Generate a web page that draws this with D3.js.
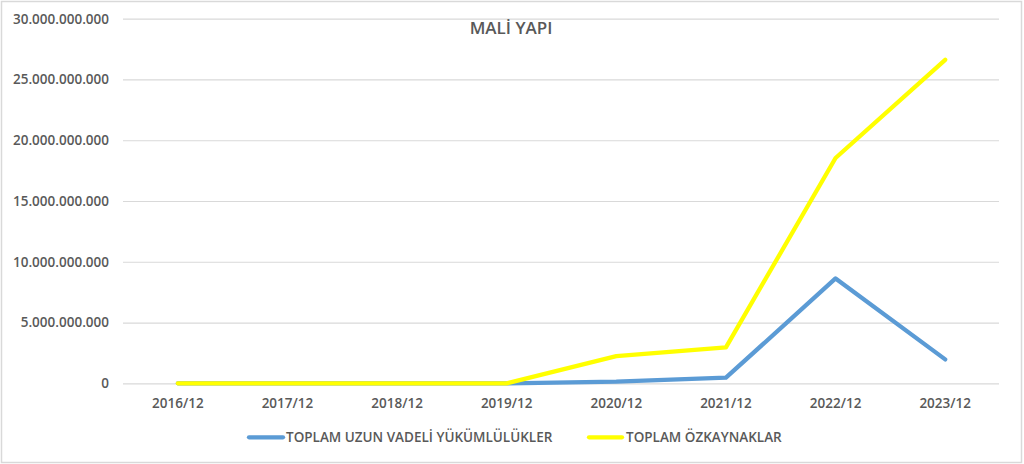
<!DOCTYPE html>
<html>
<head>
<meta charset="utf-8">
<script src="https://cdn.jsdelivr.net/npm/d3@7"></script>
<style>
  html, body { margin: 0; padding: 0; background: #fff; }
  svg { display: block; }
  text { font-family: "Open Sans", "Liberation Sans", sans-serif; fill: #595959; }
</style>
</head>
<body>
<svg id="chart" width="1024" height="464"></svg>
<script>
const title = "MALİ YAPI";
const categories = ["2016/12", "2017/12", "2018/12", "2019/12", "2020/12", "2021/12", "2022/12", "2023/12"];
const seriesNames = ["TOPLAM UZUN VADELİ YÜKÜMLÜLÜKLER", "TOPLAM ÖZKAYNAKLAR"];
const uzunVadeli = [0, 0, 0, 0, 130000000, 460000000, 8630000000, 1970000000];
const ozkaynaklar = [0, 0, 0, 0, 2240000000, 2960000000, 18540000000, 26620000000];
const yTicks = [0, 5000000000, 10000000000, 15000000000, 20000000000, 25000000000, 30000000000];
const colors = ["#5B9BD5", "#FFFF00"];

const svg = d3.select("#chart");
const W = 1024, H = 464;
const plot = { left: 123, right: 1000, top: 18.7, bottom: 383.3 };

// chart border
svg.append("rect")
  .attr("x", 1.5).attr("y", 1.5)
  .attr("width", W - 4).attr("height", H - 3)
  .attr("fill", "#fff").attr("stroke", "#d9d9d9").attr("stroke-width", 1.5);

const x = d3.scaleBand().domain(categories).range([plot.left, plot.right]);
const y = d3.scaleLinear().domain([0, 30000000000]).range([plot.bottom, plot.top]);

const loc = d3.formatLocale({ decimal: ",", thousands: ".", grouping: [3], currency: ["", ""] });
const fmt = loc.format(",");

// gridlines
const yAxis = d3.axisLeft(y).tickValues(yTicks).tickFormat(fmt)
  .tickSize(-(plot.right - plot.left - 1)).tickPadding(14);
const gy = svg.append("g").attr("transform", `translate(${plot.left},0)`).call(yAxis);
gy.select(".domain").remove();
gy.selectAll(".tick line").attr("stroke", "#d9d9d9").attr("stroke-width", 1.2);
gy.selectAll(".tick text")
  .attr("font-family", "'Open Sans', sans-serif")
  .attr("font-size", 13.5).attr("font-weight", 600).attr("fill", "#595959");

// x axis labels
const xAxis = d3.axisBottom(x).tickSize(0).tickPadding(15);
const gx = svg.append("g").attr("transform", `translate(0,${plot.bottom})`).call(xAxis);
gx.select(".domain").remove();
gx.selectAll(".tick text")
  .attr("font-family", "'Open Sans', sans-serif")
  .attr("font-size", 13.5).attr("font-weight", 600).attr("fill", "#595959");

// lines
const line = d3.line()
  .x((d, i) => x(categories[i]) + x.bandwidth() / 2)
  .y(d => y(d));

[uzunVadeli, ozkaynaklar].forEach((s, k) => {
  svg.append("path")
    .datum(s)
    .attr("d", line)
    .attr("fill", "none")
    .attr("stroke", colors[k])
    .attr("stroke-width", 4.3)
    .attr("stroke-linejoin", "round")
    .attr("stroke-linecap", "round");
});

// title
svg.append("text")
  .attr("x", 511).attr("y", 34)
  .attr("text-anchor", "middle")
  .attr("font-size", 17).attr("font-weight", 600)
  .attr("fill", "#595959")
  .text(title);

// legend
const legendItems = [
  { name: seriesNames[0], color: colors[0], x1: 249, x2: 283, tx: 286 },
  { name: seriesNames[1], color: colors[1], x1: 589, x2: 622, tx: 626 }
];
const lg = svg.append("g");
legendItems.forEach(it => {
  lg.append("line")
    .attr("x1", it.x1).attr("x2", it.x2)
    .attr("y1", 437.3).attr("y2", 437.3)
    .attr("stroke", it.color).attr("stroke-width", 4.3)
    .attr("stroke-linecap", "round");
  lg.append("text")
    .attr("x", it.tx).attr("y", 442)
    .attr("font-size", 13.5).attr("font-weight", 600)
    .attr("fill", "#595959")
    .text(it.name);
});
</script>
</body>
</html>
